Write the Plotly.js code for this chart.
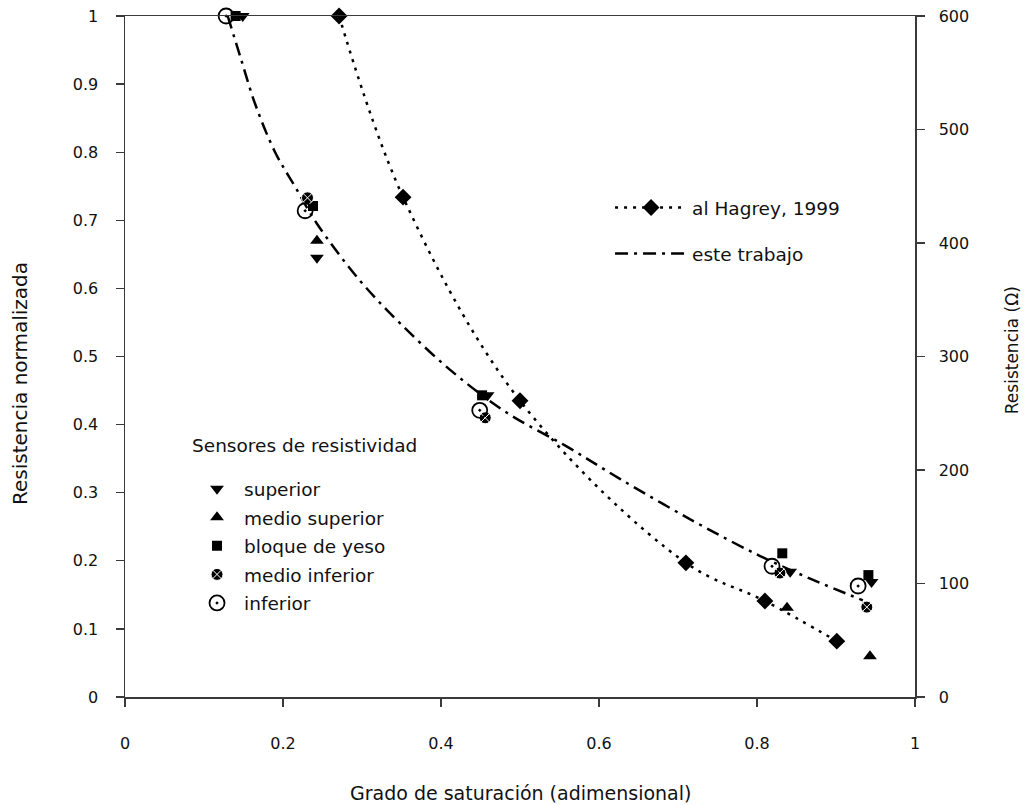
<!DOCTYPE html>
<html><head><meta charset="utf-8">
<script src="https://cdn.plot.ly/plotly-3.0.1.min.js"></script>
<style>body{margin:0;background:#fff}#chart{width:1028px;height:805px}</style>
</head><body><div id="chart"></div>
<script>
const FONT = 'DejaVu Sans, Verdana, sans-serif';

// al Hagrey, 1999 (diamonds + dotted smooth line)
const hagreyX = [0.271, 0.352, 0.500, 0.710, 0.810, 0.901];
const hagreyY = [1.000, 0.734, 0.435, 0.197, 0.141, 0.082];

// este trabajo (dash-dot fitted curve)
const trabajoX = [0.130, 0.146, 0.165, 0.190, 0.215, 0.243, 0.297, 0.348, 0.415, 0.484, 0.559, 0.627, 0.720, 0.804, 0.871, 0.934];
const trabajoY = [1.000, 0.940, 0.870, 0.800, 0.750, 0.695, 0.612, 0.549, 0.477, 0.417, 0.368, 0.320, 0.258, 0.207, 0.172, 0.142];

// Sensores de resistividad
const superiorX = [0.149, 0.243, 0.459, 0.842, 0.945];
const superiorY = [1.000, 0.645, 0.443, 0.184, 0.169];
const medioSupX = [0.243, 0.838, 0.943];
const medioSupY = [0.670, 0.131, 0.060];
const bloqueX = [0.140, 0.238, 0.452, 0.832, 0.941];
const bloqueY = [1.000, 0.721, 0.443, 0.211, 0.179];
const medioInfX = [0.231, 0.456, 0.829, 0.939];
const medioInfY = [0.733, 0.410, 0.182, 0.132];
const inferiorX = [0.128, 0.228, 0.449, 0.819, 0.928];
const inferiorY = [1.000, 0.714, 0.421, 0.192, 0.163];

const xTicks = [0, 0.2, 0.4, 0.6, 0.8, 1];
const yTicks = [0, 0.1, 0.2, 0.3, 0.4, 0.5, 0.6, 0.7, 0.8, 0.9, 1];
const y2Ticks = [0, 100, 200, 300, 400, 500, 600];

const traces = [
  {x: hagreyX, y: hagreyY, name: 'al Hagrey, 1999', mode: 'lines+markers', type: 'scatter',
   line: {color: '#000', width: 2.5, dash: '3px,6px', shape: 'spline', smoothing: 1},
   marker: {symbol: 'diamond', size: 13, color: '#000'}, legend: 'legend', legendgroup: 'g1', cliponaxis: false},
  {x: trabajoX, y: trabajoY, name: 'este trabajo', mode: 'lines', type: 'scatter',
   line: {color: '#000', width: 2.5, dash: '13px,6px,3px,6px', shape: 'spline', smoothing: 1},
   legend: 'legend', legendgroup: 'g2', cliponaxis: false},
  {x: superiorX, y: superiorY, name: 'superior', mode: 'markers', type: 'scatter',
   marker: {symbol: 'triangle-down', size: 12, color: '#000'}, legend: 'legend2', legendgroup: 's1', cliponaxis: false},
  {x: medioSupX, y: medioSupY, name: 'medio superior', mode: 'markers', type: 'scatter',
   marker: {symbol: 'triangle-up', size: 12, color: '#000'}, legend: 'legend2', legendgroup: 's2', cliponaxis: false},
  {x: bloqueX, y: bloqueY, name: 'bloque de yeso', mode: 'markers', type: 'scatter',
   marker: {symbol: 'square', size: 10, color: '#000'}, legend: 'legend2', legendgroup: 's3', cliponaxis: false},
  {x: medioInfX, y: medioInfY, name: 'medio inferior', mode: 'markers', type: 'scatter',
   marker: {symbol: 'circle-x', size: 12, color: '#000', line: {color: '#fff', width: 1}}, legend: 'legend2', legendgroup: 's4', cliponaxis: false},
  {x: inferiorX, y: inferiorY, name: 'inferior', mode: 'markers', type: 'scatter',
   marker: {symbol: 'circle-open-dot', size: 15, color: '#000', line: {color: '#000', width: 1.8}}, legend: 'legend2', legendgroup: 's5', cliponaxis: false},
  {x: [], y: [], yaxis: 'y2', type: 'scatter', mode: 'markers', showlegend: false, hoverinfo: 'skip'}
];

const axisCommon = {
  showgrid: false, zeroline: false, showline: true, linecolor: '#3a3a3a', linewidth: 1.5,
  ticks: 'outside', ticklen: 8, tickwidth: 1.3, tickcolor: '#3a3a3a',
  tickfont: {family: FONT, size: 16, color: '#111'}
};

const layout = {
  width: 1028, height: 805,
  margin: {l: 125, r: 113, t: 16, b: 108},
  paper_bgcolor: '#fff', plot_bgcolor: '#fff',
  font: {family: FONT, color: '#111'},
  xaxis: Object.assign({}, axisCommon, {range: [0, 1], tickvals: xTicks, ticktext: xTicks.map(String), mirror: true, ticklabelstandoff: 23}),
  yaxis: Object.assign({}, axisCommon, {range: [0, 1], tickvals: yTicks, ticktext: yTicks.map(String), ticklabelstandoff: 14}),
  yaxis2: Object.assign({}, axisCommon, {range: [0, 600], tickvals: y2Ticks, ticktext: y2Ticks.map(String), overlaying: 'y', side: 'right', ticklabelstandoff: 11}),
  showlegend: true,
  legend: {x: 0.614, y: 0.746, xanchor: 'left', yanchor: 'top', bgcolor: 'rgba(0,0,0,0)',
           font: {family: FONT, size: 18.5, color: '#111'}, tracegroupgap: 19, traceorder: 'grouped', itemwidth: 72},
  legend2: {x: 0.0823, y: 0.333, xanchor: 'left', yanchor: 'top', bgcolor: 'rgba(0,0,0,0)',
            font: {family: FONT, size: 18.5, color: '#111'}, tracegroupgap: 1.5, traceorder: 'grouped', itemwidth: 44},
  annotations: [
    {text: 'Grado de saturación (adimensional)', xref: 'paper', yref: 'paper', x: 0.5, y: -0.141,
     xanchor: 'center', yanchor: 'middle', showarrow: false, font: {family: FONT, size: 19, color: '#111'}},
    {text: 'Resistencia normalizada', xref: 'paper', yref: 'paper', x: -0.133, y: 0.461, textangle: -90,
     xanchor: 'center', yanchor: 'middle', showarrow: false, font: {family: FONT, size: 20, color: '#111'}},
    {text: 'Resistencia (Ω)', xref: 'paper', yref: 'paper', x: 1.123, y: 0.5095, textangle: -90,
     xanchor: 'center', yanchor: 'middle', showarrow: false, font: {family: FONT, size: 17, color: '#111'}},
    {text: 'Sensores de resistividad', xref: 'paper', yref: 'paper', x: 0.0823, y: 0.3686,
     xanchor: 'left', yanchor: 'middle', showarrow: false, font: {family: FONT, size: 18.5, color: '#111'}}
  ]
};

Plotly.newPlot('chart', traces, layout, {displayModeBar: false, staticPlot: true});
</script>
</body></html>
